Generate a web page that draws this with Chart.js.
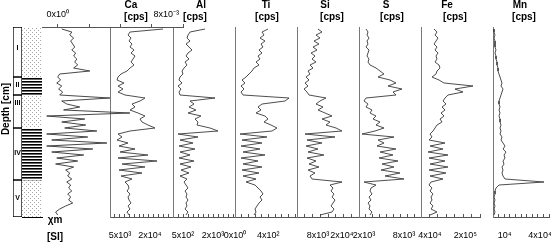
<!DOCTYPE html>
<html><head><meta charset="utf-8">
<script src="https://cdn.jsdelivr.net/npm/chart.js@4.4.1/dist/chart.umd.min.js"></script>
<style>
html,body{margin:0;padding:0;background:#fff;}
#wrap{position:relative;width:551px;height:244px;overflow:hidden;font-family:'Liberation Sans',Arial,sans-serif;}
#wrap canvas{position:absolute;left:0;top:0;}
.t{position:absolute;transform:translate(-50%,-50%);white-space:nowrap;font-weight:bold;font-size:10px;color:#000;line-height:1;}
</style></head><body>
<div id="wrap"></div>
<script>
// ---------- data ----------
const depth = [2,5,8,11,14,17,20,23,26,29,32,35,38,41,44,47,50,53,56,59,62,65,68,71,74,77,80,83,86,89,92,95,98,101,104,107,110,113,116,119,122,125,128,131,134,137,140,143,146,149,152,155,158,161,164,167,170,173,176,179,182,185,188];
const units = ['I','II','III','IV','V'];
const unitTop = [0,50,68,101,153];
const unitBottom = [50,68,101,153,190];
const unitLabelDepth = [21,58,76,126,171];
const unitLitho = ['sand','clay','sand','clay','sand'];
// magnetic susceptibility, 10^-3 SI
const chi = [0.26,0.90,0.77,1.02,0.83,0.96,1.09,0.90,1.15,1.02,1.22,1.09,1.28,1.02,2.05,0.13,0.00,0.19,-0.06,0.26,0.06,0.32,0.13,3.33,0.26,0.58,1.41,0.38,4.61,-0.70,1.73,0.26,1.79,0.45,2.50,-0.70,1.92,-0.38,3.14,-0.70,2.24,-0.38,1.66,-0.06,1.28,-0.13,1.02,0.51,0.77,0.64,0.90,0.58,0.83,0.70,0.90,0.64,0.83,0.70,0.96,0.51,0.13,-0.13,0.00];
const ca = [26500,10000,9000,10500,9500,11000,10000,12000,10500,12500,11500,10500,12000,10000,8500,5500,4000,3500,7000,4000,6500,4000,7500,17500,15000,11000,12500,10000,14000,17500,15000,16000,19000,22500,10000,4000,6000,3500,9000,4500,12500,5000,19000,4000,23500,6000,17500,4500,16000,5500,11000,7500,9000,9500,8500,10000,9000,9500,10500,9000,10000,8500,9500];
const al = [1600,850,750,700,850,650,800,950,750,650,800,600,700,550,450,500,350,300,450,250,400,300,350,2100,850,1050,800,1150,750,1400,1100,1250,1200,1850,2250,250,1250,350,1000,300,1100,350,850,300,1050,350,900,400,800,350,700,550,650,750,600,700,650,750,650,700,600,750,650];
const ti = [396,324,348,300,360,312,336,288,324,276,300,252,288,228,204,168,132,84,120,72,108,72,96,648,600,324,276,312,252,360,396,348,432,504,444,60,384,84,324,72,300,96,360,72,276,96,324,84,288,96,252,132,240,276,312,336,300,324,288,264,240,252,228];
const si = [8000,10000,7000,9000,6000,8500,5500,7500,4500,6500,5000,7000,4000,5500,3000,4000,2000,3500,1500,3000,1000,2500,3500,12000,9000,7000,10500,8000,11500,15000,10000,14000,12000,17000,20000,1500,16500,2500,10000,2000,8000,3000,11000,2500,7000,3500,8500,3000,6500,4000,5000,20000,14000,15500,14500,16000,15000,16500,15500,14500,16000,15000,9000];
const sul = [2300,2600,2450,2750,2450,2600,2300,2750,2600,2450,2750,2600,2900,3800,4400,5000,4100,5900,6800,5600,7700,6350,6800,2300,2000,2600,2300,3200,2900,3800,3350,4400,3800,5000,3650,1700,6500,4100,5000,3950,6800,4400,6350,4250,7100,4700,6500,4550,7400,5150,8000,2000,3800,3050,2900,3200,2750,3050,2600,2900,2750,3200,2900];
const fe = [58500,72000,63000,76500,67500,58500,72000,63000,76500,67500,72000,63000,81000,85500,72000,67500,49500,81000,103500,234000,153000,189000,121500,108000,99000,112500,94500,108000,90000,103500,85500,94500,72000,63000,54000,40500,49500,36000,108000,40500,99000,31500,121500,36000,108000,40500,121500,36000,112500,40500,99000,45000,36000,49500,40500,54000,45000,49500,40500,54000,45000,72000,40500];
const mn = [850,850,1700,850,1700,1700,1700,2550,1700,2550,2550,3400,3400,4250,4250,5100,5950,6800,7650,6800,8500,7650,6800,5950,5100,5100,5950,5100,5950,5100,5950,5950,6800,5950,6800,5950,7650,6800,8500,10200,8500,11050,9350,10200,8500,9350,7650,8500,7650,8500,10200,43350,5100,2550,1700,1700,850,1700,850,1700,850,1700,850];
// tick labels
const chiTickValues = [0, 8];          const chiTickLabels = ['0x10⁰', '8x10⁻³'];
const caTickValues = [5000, 20000];    const caTickLabels = ['5x10³', '2x10⁴'];
const alTickValues = [500, 2000];      const alTickLabels = ['5x10²', '2x10³'];
const tiTickValues = [0, 400];         const tiTickLabels = ['0x10⁰', '4x10²'];
const siTickValues = [8000, 20000];    const siTickLabels = ['8x10³', '2x10⁴'];
const sTickValues = [2000, 8000];      const sTickLabels = ['2x10³', '8x10³'];
const feTickValues = [40000, 200000];  const feTickLabels = ['4x10⁴', '2x10⁵'];
const mnTickValues = [10000, 40000];   const mnTickLabels = ['10⁴', '4x10⁴'];

// ---------- layout / style ----------
const W = 551, H = 244, TOP = 27, BOTTOM = 217;
const FONT = "'Liberation Sans', Arial, sans-serif";
Chart.defaults.font.family = FONT;
const wrap = document.getElementById('wrap');
function newCanvas(){ const c=document.createElement('canvas'); c.width=W; c.height=H; wrap.appendChild(c); return c; }
function text(t, x, y, extra){ const d=document.createElement('div'); d.className='t'; d.textContent=t; d.style.left=x+'px'; d.style.top=y+'px'; if(extra) Object.assign(d.style, extra); wrap.appendChild(d); }
const baseOpts = { responsive:false, animation:false, events:[] };

// draws the labelled ticks of the x scale at the scale's own pixel positions
const tickLabelPlugin = {
  id:'tickLabels',
  afterDraw(chart, args, o){
    const sc = chart.scales.x, ctx = chart.ctx;
    ctx.save(); ctx.font = '9px ' + FONT; ctx.fillStyle = '#000'; ctx.textBaseline = 'middle';
    o.values.forEach((v,i)=>{
      ctx.textAlign = (o.align && o.align[i]) || 'center';
      const dx = (o.dx && o.dx[i]) || 0;
      const y = o.top ? sc.bottom - o.offset : sc.top + o.offset;
      ctx.fillText(o.labels[i], sc.getPixelForValue(v) + dx, y);
    });
    ctx.restore();
  }
};

// patterns
const pctx = document.createElement('canvas').getContext('2d');
function pattern(kind){
  const c=document.createElement('canvas'); const g=c.getContext('2d');
  if(kind==='clay'){ c.width=4; c.height=3; g.fillStyle='#fff'; g.fillRect(0,0,4,3); g.fillStyle='#000'; g.fillRect(0,0,4,1); g.fillStyle='#666'; g.fillRect(0,1,4,1); }
  else { c.width=4; c.height=4; g.fillStyle='#fff'; g.fillRect(0,0,4,4); g.fillStyle='#a8a8a8'; g.fillRect(0,0,1,1); g.fillRect(2,2,1,1); }
  return pctx.createPattern(c,'repeat');
}
const fills = {sand: pattern('sand'), clay: pattern('clay')};

// ---------- lithology: unit label column ----------
new Chart(newCanvas(), {
  type:'bar',
  data:{ labels:['unit'], datasets: units.map((u,i)=>({ label:u, data:[[unitTop[i], unitBottom[i]]], backgroundColor:'#fff', borderColor:'#000', borderWidth:1, borderSkipped:false, grouped:false, barPercentage:1, categoryPercentage:1 })) },
  options:{ ...baseOpts, plugins:{legend:{display:false}, tooltip:{enabled:false}},
    layout:{padding:{left:13, right:W-22, top:TOP, bottom:H-BOTTOM}},
    scales:{ x:{display:false}, y:{display:false, reverse:true, min:0, max:190} } },
  plugins:[{ id:'unitNames', afterDatasetsDraw(chart){
    const ctx=chart.ctx, xs=chart.scales.x, ys=chart.scales.y;
    ctx.save(); ctx.font='bold 7px '+FONT; ctx.fillStyle='#000'; ctx.textAlign='center'; ctx.textBaseline='middle';
    units.forEach((u,i)=>ctx.fillText(u, xs.getPixelForValue(0), ys.getPixelForValue(unitLabelDepth[i])));
    ctx.restore(); } }]
});
// ---------- lithology: pattern column ----------
new Chart(newCanvas(), {
  type:'bar',
  data:{ labels:['litho'], datasets: units.map((u,i)=>({ label:u, data:[[unitTop[i], unitBottom[i]]], backgroundColor:fills[unitLitho[i]], borderWidth:0, grouped:false, barPercentage:1, categoryPercentage:1 })) },
  options:{ ...baseOpts, plugins:{legend:{display:false}, tooltip:{enabled:false}},
    layout:{padding:{left:22, right:W-42, top:0, bottom:0}},
    scales:{
      x:{position:'bottom', ticks:{display:false}, grid:{display:false}, border:{display:true, color:'#000'}, afterFit:(sc)=>{sc.height=H-BOTTOM;}},
      x2:{type:'category', position:'top', ticks:{display:false}, grid:{display:false}, border:{display:true, color:'#000'}, afterFit:(sc)=>{sc.height=TOP;}},
      y:{display:false, reverse:true, min:0, max:190} } }
});

// ---------- element profiles ----------
function profile(values, left, right, min, max, step, tv, tl){
  new Chart(newCanvas(), {
    type:'scatter',
    data:{ datasets:[{ data: values.map((v,i)=>({x:v, y:depth[i]})), showLine:true, borderColor:'#3a3a3a', borderWidth:0.9, pointRadius:0, tension:0, fill:false }] },
    options:{ ...baseOpts,
      plugins:{ legend:{display:false}, tooltip:{enabled:false}, tickLabels:{ values:tv, labels:tl, offset:19 } },
      layout:{padding:{left:left, right:W-right, top:TOP, bottom:0}},
      scales:{
        x:{ type:'linear', position:'bottom', min:min, max:max,
            ticks:{ display:false, stepSize:step, includeBounds:false },
            grid:{ display:true, drawOnChartArea:false, drawTicks:true, tickLength:-3, color:'#555' },
            border:{ display:true, color:'#555', width:1 },
            afterFit:(sc)=>{ sc.height=H-BOTTOM; sc.paddingLeft=0; sc.paddingRight=0; } },
        y:{ type:'linear', position:'left', reverse:true, min:0, max:190, ticks:{display:false}, grid:{display:false},
            border:{ display:true, color:'#777', width:1 }, afterFit:(sc)=>{ sc.width=0; } }
      } },
    plugins:[tickLabelPlugin]
  });
}
profile(ca, 110, 173, 0, 31500, 2500, caTickValues, caTickLabels);
profile(al, 173, 235, 0, 3100, 250, alTickValues, alTickLabels);
profile(ti, 235, 297, 0, 744, 80, tiTickValues, tiTickLabels);
profile(si, 297, 359, -2500, 28500, 4000, siTickValues, siTickLabels);
profile(sul, 359, 421, 1250, 10550, 1000, sTickValues, sTickLabels);
profile(fe, 421, 480, 0, 265500, 40000, feTickValues, feTickLabels);
profile(mn, 493, 549, 0, 47600, 5000, mnTickValues, mnTickLabels);

// ---------- magnetic susceptibility (top axis) ----------
new Chart(newCanvas(), {
  type:'scatter',
  data:{ datasets:[{ data: chi.map((v,i)=>({x:v, y:depth[i]})), showLine:true, borderColor:'#333', borderWidth:0.9, pointRadius:0, tension:0, fill:false }] },
  options:{ ...baseOpts,
    plugins:{ legend:{display:false}, tooltip:{enabled:false}, tickLabels:{ values:chiTickValues, labels:chiTickLabels, align:['center','right'], dx:[0,-4], top:true, offset:12 } },
    layout:{padding:{left:42, right:W-183, top:0, bottom:H-BOTTOM}},
    scales:{
      x:{ type:'linear', position:'top', min:-1, max:8,
          ticks:{ display:false, stepSize:2, includeBounds:false },
          grid:{ display:true, drawOnChartArea:false, drawTicks:true, tickLength:3, color:'#555' },
          border:{ display:true, color:'#555', width:1 },
          afterFit:(sc)=>{ sc.height=TOP; sc.paddingLeft=0; sc.paddingRight=0; } },
      y:{ display:false, reverse:true, min:0, max:190 }
    } },
  plugins:[tickLabelPlugin]
});

// ---------- titles ----------
text('Depth [cm]', 6, 109, {transform:'translate(-50%,-50%) rotate(-90deg)'});
text('χm', 55, 220);
text('[SI]', 55, 237);
const heads = [['Ca',131,136],['Al',201,195],['Ti',266,267],['Si',325,332],['S',386,392],['Fe',447,455],['Mn',520,524]];
heads.forEach(h=>{ text(h[0], h[1], 5); text('[cps]', h[2], 17); });
</script>
</body></html>
